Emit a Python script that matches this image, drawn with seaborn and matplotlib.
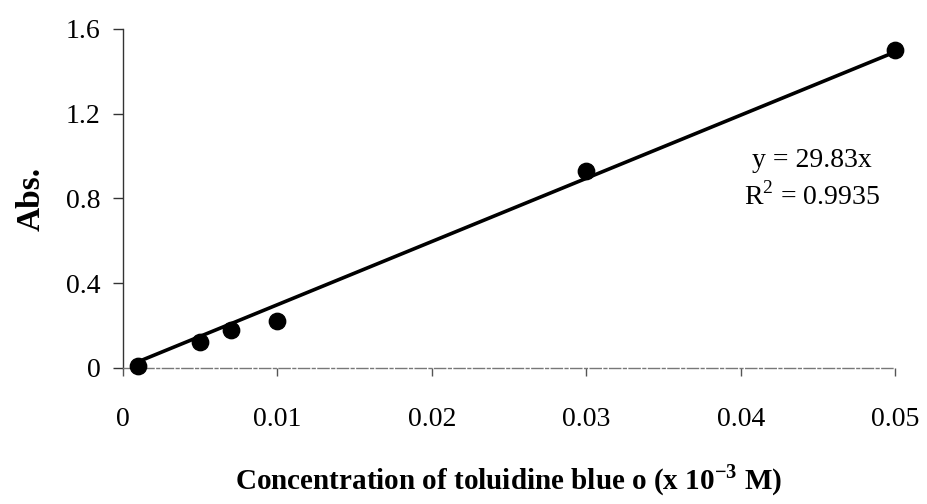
import numpy as np
import pandas as pd
import matplotlib.pyplot as plt
import seaborn as sns

# calibration data
conc = [0.001, 0.005, 0.007, 0.010, 0.030, 0.050]
absorb = [0.01, 0.12, 0.18, 0.22, 0.93, 1.50]
slope = 29.83
r2 = 0.9935

xticks = [0, 0.01, 0.02, 0.03, 0.04, 0.05]
xticklabels = ['0', '0.01', '0.02', '0.03', '0.04', '0.05']
yticks = [0, 0.4, 0.8, 1.2, 1.6]
yticklabels = ['0', '0.4', '0.8', '1.2', '1.6']

df = pd.DataFrame({'conc': conc, 'abs': absorb})
fit = pd.DataFrame({'conc': [conc[0], conc[-1]]})
fit['abs'] = slope * fit['conc']

sns.set_style('white')
plt.rcParams['font.family'] = ['Liberation Serif', 'DejaVu Serif']
plt.rcParams['mathtext.fontset'] = 'custom'
plt.rcParams['mathtext.rm'] = 'Liberation Serif'
plt.rcParams['mathtext.bf'] = 'Liberation Serif:bold'
plt.rcParams['text.color'] = 'black'
plt.rcParams['axes.labelcolor'] = 'black'
plt.rcParams['xtick.labelcolor'] = 'black'
plt.rcParams['ytick.labelcolor'] = 'black'

fig = plt.figure(figsize=(9.28, 5.04), dpi=100)
ax = fig.add_axes([0.1325, 0.27, 0.832, 0.6725])

sns.lineplot(data=fit, x='conc', y='abs', color='black', linewidth=2.6, ax=ax)
sns.scatterplot(data=df, x='conc', y='abs', color='black', s=140,
                edgecolor='black', clip_on=False, zorder=5, ax=ax)

ax.set_xlim(0, 0.05)
ax.set_ylim(0, 1.6)
ax.set_xticks(xticks)
ax.set_xticklabels(xticklabels)
ax.set_yticks(yticks)
ax.set_yticklabels(yticklabels)

for s in ['top', 'right']:
    ax.spines[s].set_visible(False)
ax.spines['left'].set_color('#333333')
ax.spines['left'].set_linewidth(1.0)
ax.spines['bottom'].set_color('#777777')
ax.spines['bottom'].set_linewidth(1.0)
ax.spines['bottom'].set_linestyle((0, (8, 2, 2, 2)))

ax.tick_params(axis='x', direction='out', length=6, width=1, color='#555555',
               pad=22, labelsize=20, labelcolor='black', bottom=True)
ax.tick_params(axis='y', direction='out', length=7, width=1, color='#333333',
               pad=9, labelsize=20, labelcolor='black', left=True)

ax.set_xlabel('Concentration of toluidine blue o (x 10$^{\\mathbf{-3}}$ M)',
              fontsize=21, fontweight='bold', labelpad=22)
ax.set_ylabel('Abs.', fontsize=24, fontweight='bold', labelpad=14)

ax.text(0.0446, 0.98, 'y = 29.83x', fontsize=20, ha='center', va='center')
ax.text(0.0446, 0.81, 'R$^{\\mathrm{2}}$ = 0.9935', fontsize=20,
        ha='center', va='center')

fig.savefig('out.png', dpi=100)
